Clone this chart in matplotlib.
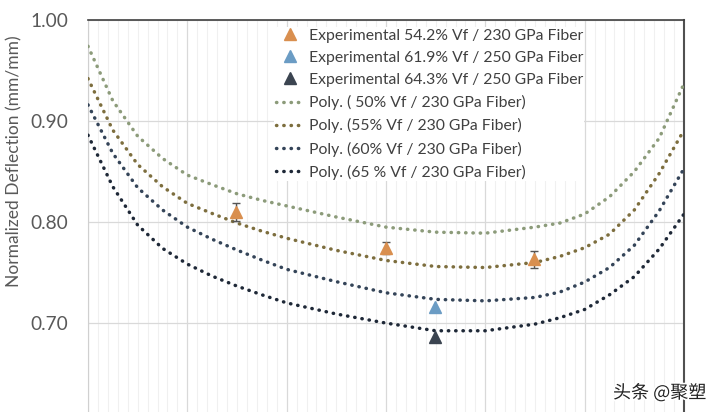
import matplotlib
matplotlib.use('Agg')
import matplotlib.pyplot as plt
import matplotlib.patheffects as pe
from matplotlib.ticker import MultipleLocator

# positions along the span (major grid = 1 unit)
x_fit = [0, 0.25, 0.5, 0.75, 1, 1.25, 1.5, 1.75, 2, 2.5, 3, 3.5, 4, 4.5, 4.75, 5, 5.25, 5.5, 5.75, 6]

# polynomial trendlines
poly_50 = [0.974, 0.920, 0.885, 0.863, 0.8465, 0.837, 0.828, 0.8215, 0.816, 0.805, 0.795, 0.790,
           0.789, 0.795, 0.799, 0.808, 0.825, 0.850, 0.883, 0.937]
poly_55 = [0.942, 0.891, 0.857, 0.835, 0.8185, 0.8085, 0.799, 0.791, 0.784, 0.772, 0.762, 0.756,
           0.755, 0.760, 0.766, 0.7746, 0.788, 0.812, 0.848, 0.891]
poly_60 = [0.916, 0.868, 0.834, 0.812, 0.795, 0.783, 0.7723, 0.7624, 0.7532, 0.741, 0.730, 0.7235,
           0.722, 0.7254, 0.7307, 0.7406, 0.755, 0.777, 0.811, 0.853]
poly_65 = [0.886, 0.835, 0.797, 0.774, 0.7584, 0.7465, 0.7366, 0.728, 0.720, 0.709, 0.700, 0.6924,
           0.6924, 0.699, 0.7053, 0.7135, 0.728, 0.746, 0.7733, 0.808]

poly_labels = ['Poly. ( 50% Vf / 230 GPa Fiber)', 'Poly. (55% Vf / 230 GPa Fiber)',
               'Poly. (60% Vf / 230 GPa Fiber)', 'Poly. (65 % Vf / 230 GPa Fiber)']
poly_colors = ['#8c9b7a', '#7d6e3e', '#344458', '#1e2837']

# experimental points
exp1_x = [1.49, 3.0, 4.49]
exp1_y = [0.810, 0.774, 0.763]
exp1_err = [0.009, 0.006, 0.008]
exp2_x = [3.49]
exp2_y = [0.716]
exp3_x = [3.49]
exp3_y = [0.686]
exp_labels = ['Experimental 54.2% Vf / 230 GPa Fiber', 'Experimental 61.9% Vf / 250 GPa Fiber',
              'Experimental 64.3% Vf / 250 GPa Fiber']
exp_colors = ['#d98f4f', '#6b9cc4', '#3b4450']

plt.rcParams['font.family'] = ['Lato', 'DejaVu Sans']

fig = plt.figure(figsize=(7.2, 4.12), dpi=100)
ax = fig.add_axes([88/720, 0, (684-88)/720, 1 - 20/412])

lines = []
for ys, lab, col in zip([poly_50, poly_55, poly_60, poly_65], poly_labels, poly_colors):
    l, = ax.plot(x_fit, ys, color=col, lw=2.5, linestyle=(0, (0.1, 2.0)),
                 dash_capstyle='round', label=lab, zorder=3)
    lines.append(l)

ax.errorbar(exp1_x, exp1_y, yerr=exp1_err, fmt='none', ecolor='#555555',
            elinewidth=1, capsize=3, zorder=4)
m1, = ax.plot(exp1_x, exp1_y, '^', color=exp_colors[0], ms=8, label=exp_labels[0], zorder=5)
m2, = ax.plot(exp2_x, exp2_y, '^', color=exp_colors[1], ms=8, label=exp_labels[1], zorder=5)
m3, = ax.plot(exp3_x, exp3_y, '^', color=exp_colors[2], ms=8, label=exp_labels[2], zorder=5)

ax.set_xlim(0, 6)
ax.set_ylim(0.612, 1.0)
ax.xaxis.set_major_locator(MultipleLocator(1))
ax.xaxis.set_minor_locator(MultipleLocator(0.1))
ax.yaxis.set_major_locator(MultipleLocator(0.1))
ax.yaxis.set_major_formatter(matplotlib.ticker.FormatStrFormatter('%.2f'))

ax.grid(which='major', axis='both', color='#d9d9d9', lw=0.9, zorder=0)
ax.grid(which='minor', axis='x', color='#f0f0f0', lw=0.8, zorder=0)
ax.set_axisbelow(True)

ax.tick_params(axis='x', which='both', length=0, labelbottom=False)
ax.tick_params(axis='y', length=0, labelsize=13.8, labelcolor='#595959', pad=14)

ax.spines['left'].set_color('#d0d0d0')
ax.spines['bottom'].set_visible(False)
ax.spines['top'].set_color('#404040')
ax.spines['top'].set_linewidth(1.2)
ax.spines['right'].set_color('#505050')
ax.spines['right'].set_linewidth(1.5)

ax.set_ylabel('Normalized Deflection (mm/mm)', fontsize=12.5, color='#595959')
ax.yaxis.set_label_coords(-0.11, 0.64)

leg = fig.legend(handles=[m1, m2, m3] + lines, loc='upper left',
                 bbox_to_anchor=(274/720, 1 - 27/412), fontsize=11.3,
                 frameon=True, facecolor='white', edgecolor='none', framealpha=1,
                 borderpad=0.1, labelspacing=0.52, handlelength=1.9, handletextpad=0.2,
                 borderaxespad=0)
for t in leg.get_texts():
    t.set_color('#404040')

fig.text(706/720, 1 - 393/412, '头条 @聚塑', fontsize=13, ha='right', va='center',
         family=['Noto Sans CJK SC', 'DejaVu Sans'], color='#222222',
         path_effects=[pe.withStroke(linewidth=2.5, foreground='white')])

fig.savefig('out.png', dpi=100)
